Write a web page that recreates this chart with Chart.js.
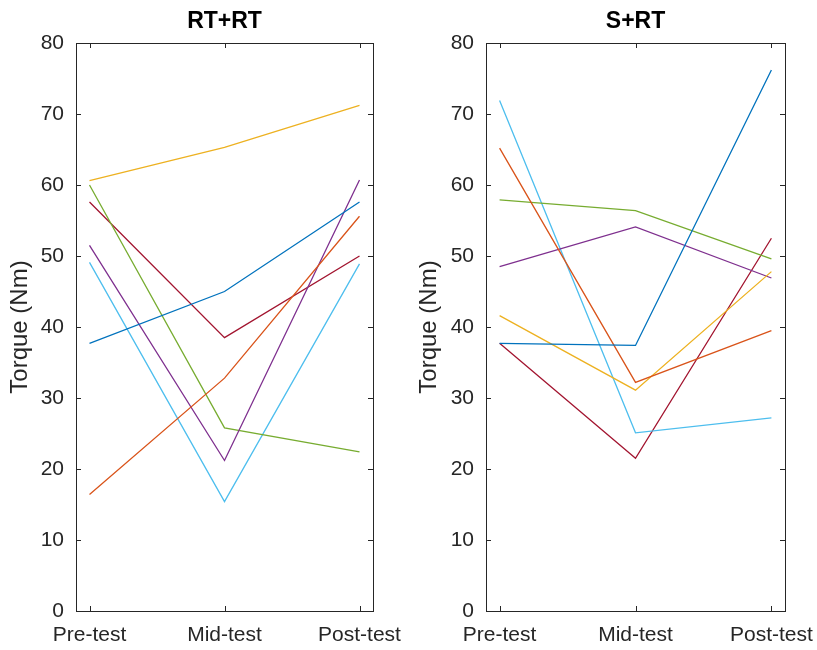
<!DOCTYPE html>
<html>
<head>
<meta charset="utf-8">
<script src="https://cdn.jsdelivr.net/npm/chart.js@4.4.1/dist/chart.umd.min.js"></script>
<style>
    html, body { margin: 0; padding: 0; background: #fff; }
    .panel { position: absolute; top: 0; height: 650px; }
    #left { left: 0; width: 408px; }
    #right { left: 408px; width: 409px; }
</style>
</head>
<body>
<div class="panel" id="left"><canvas id="rtrtChart"></canvas></div>
<div class="panel" id="right"><canvas id="srtChart"></canvas></div>
<script>
// 测试阶段
const phases = ['Pre-test', 'Mid-test', 'Post-test'];
const yTicks = [0, 10, 20, 30, 40, 50, 60, 70, 80];

// MATLAB 默认配色
const lineColors = ['#0072BD', '#D95319', '#EDB120', '#7E2F8E', '#77AC30', '#4DBEEE', '#A2142F'];

// RT+RT 组（每行一个受试者：前测、中测、后测）
const rtrtSeries = [
    [37.7, 45.0, 57.6],
    [16.4, 32.8, 55.6],
    [60.6, 65.3, 71.2],
    [51.5, 21.2, 60.7],
    [60.0, 25.8, 22.4],
    [49.1, 15.4, 48.9],
    [57.6, 38.5, 50.0]
];

// S+RT 组
const srtSeries = [
    [37.7, 37.4, 76.2],
    [65.2, 32.2, 39.5],
    [41.6, 31.1, 47.8],
    [48.5, 54.1, 46.9],
    [57.9, 56.4, 49.6],
    [71.9, 25.1, 27.2],
    [37.7, 21.5, 52.5]
];

const axisColor = '#262626';
const fontFamily = '"Liberation Sans", Arial, sans-serif';

// 画 MATLAB 风格的外框、内向刻度和标题
const boxPlugin = {
    id: 'matlabBox',
    afterDraw(chart, args, opts) {
        const { ctx, chartArea: a, scales } = chart;
        const tl = 5;
        ctx.save();
        ctx.strokeStyle = axisColor;
        ctx.lineWidth = 1;
        ctx.strokeRect(a.left + 0.5, a.top + 0.5, a.right - a.left, a.bottom - a.top);
        ctx.beginPath();
        scales.y.ticks.forEach(t => {
            const y = Math.round(scales.y.getPixelForValue(t.value)) + 0.5;
            ctx.moveTo(a.left, y); ctx.lineTo(a.left + tl, y);
            ctx.moveTo(a.right, y); ctx.lineTo(a.right - tl, y);
        });
        scales.x.ticks.forEach(t => {
            const x = Math.round(scales.x.getPixelForValue(t.value)) + 0.5;
            ctx.moveTo(x, a.bottom); ctx.lineTo(x, a.bottom - tl);
            ctx.moveTo(x, a.top); ctx.lineTo(x, a.top + tl);
        });
        ctx.stroke();
        // 标题
        ctx.fillStyle = '#000';
        ctx.font = 'bold 23px ' + fontFamily;
        ctx.textAlign = 'center';
        ctx.textBaseline = 'middle';
        ctx.fillText(opts.text, (a.left + a.right) / 2, 22);
        ctx.restore();
    }
};

function buildChart(canvasId, series, title, area) {
    const datasets = series.map((vals, i) => ({
        data: vals.map((v, j) => ({ x: j + 1, y: v })),
        borderColor: lineColors[i],
        borderWidth: 1.3,
        pointRadius: 0,
        fill: false,
        tension: 0
    }));

    return new Chart(document.getElementById(canvasId), {
        type: 'line',
        data: { datasets },
        plugins: [boxPlugin],
        options: {
            responsive: true,
            maintainAspectRatio: false,
            animation: false,
            layout: { padding: { left: 0, top: area.top, right: area.right, bottom: 0 } },
            plugins: {
                legend: { display: false },
                tooltip: { enabled: false },
                matlabBox: { text: title }
            },
            scales: {
                x: {
                    type: 'linear',
                    min: 0.9,
                    max: 3.1,
                    afterBuildTicks: s => { s.ticks = phases.map((p, i) => ({ value: i + 1 })); },
                    afterFit: s => {
                        s.height = area.bottom;
                        s.paddingLeft = 0;
                        s.paddingRight = 0;
                    },
                    grid: { display: false, drawTicks: false },
                    border: { display: false },
                    ticks: {
                        color: axisColor,
                        padding: 12,
                        maxRotation: 0,
                        autoSkip: false,
                        font: { family: fontFamily, size: 21 },
                        callback: v => phases[v - 1]
                    }
                },
                y: {
                    min: 0,
                    max: 80,
                    afterBuildTicks: s => { s.ticks = yTicks.map(v => ({ value: v })); },
                    afterFit: s => {
                        s.width = area.left;
                        s.paddingTop = 0;
                        s.paddingBottom = 0;
                    },
                    grid: { display: false, drawTicks: false },
                    border: { display: false },
                    ticks: {
                        color: axisColor,
                        padding: 12,
                        font: { family: fontFamily, size: 21 }
                    },
                    title: {
                        display: true,
                        text: 'Torque (Nm)',
                        color: axisColor,
                        padding: { top: area.titlePad, bottom: 0 },
                        font: { family: fontFamily, size: 24 }
                    }
                }
            }
        }
    });
}

buildChart('rtrtChart', rtrtSeries, 'RT+RT', { left: 76, top: 43, right: 35, bottom: 39, titlePad: 6 });
buildChart('srtChart', srtSeries, 'S+RT', { left: 78, top: 43, right: 32, bottom: 39, titlePad: 7 });
</script>
</body>
</html>
